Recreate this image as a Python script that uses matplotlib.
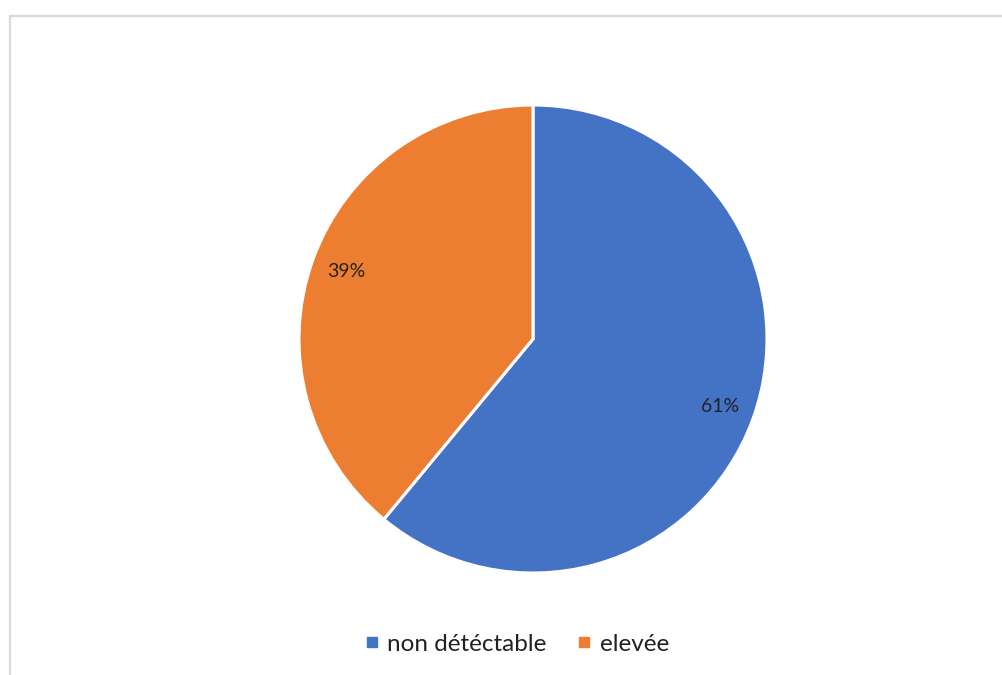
import matplotlib.pyplot as plt
from matplotlib.lines import Line2D

labels = ['non détéctable', 'elevée']
shares = [61, 39]
colors = ['#4472C4', '#ED7D31']

plt.rcParams['font.family'] = ['Lato', 'DejaVu Sans']

fig = plt.figure(figsize=(10.02, 6.75), dpi=100)

# chart area border (open on the right and bottom)
fig.add_artist(Line2D([10 / 1002, 10 / 1002], [0, 1 - 16 / 675],
                      color='#D9D9D9', lw=1.6, transform=fig.transFigure))
fig.add_artist(Line2D([10 / 1002, 1], [1 - 16 / 675, 1 - 16 / 675],
                      color='#D9D9D9', lw=1.6, transform=fig.transFigure))

# pie centred at (533, 339) px, radius 234 px
r = 234
ax = fig.add_axes([(533 - r) / 1002, (675 - 339 - r) / 675, 2 * r / 1002, 2 * r / 675])
wedges, texts, autotexts = ax.pie(
    shares,
    colors=colors,
    startangle=90,
    counterclock=False,
    autopct='%1.0f%%',
    pctdistance=0.85,
    radius=1,
    wedgeprops=dict(edgecolor='white', linewidth=2.2),
    textprops=dict(fontsize=14, color='#222222'),
)
ax.set_xlim(-1, 1)
ax.set_ylim(-1, 1)
ax.set_aspect('equal')

handles = [Line2D([], [], marker='s', linestyle='', markersize=7.5,
                  markerfacecolor=c, markeredgecolor=c) for c in colors]
fig.legend(handles, labels, loc='center', bbox_to_anchor=(515 / 1002, 1 - 644 / 675),
           ncol=2, frameon=False, fontsize=17.5, handletextpad=0.2,
           columnspacing=1.1, handlelength=0.9, labelcolor='#222222')

fig.savefig('out.png', dpi=100, facecolor='white')
